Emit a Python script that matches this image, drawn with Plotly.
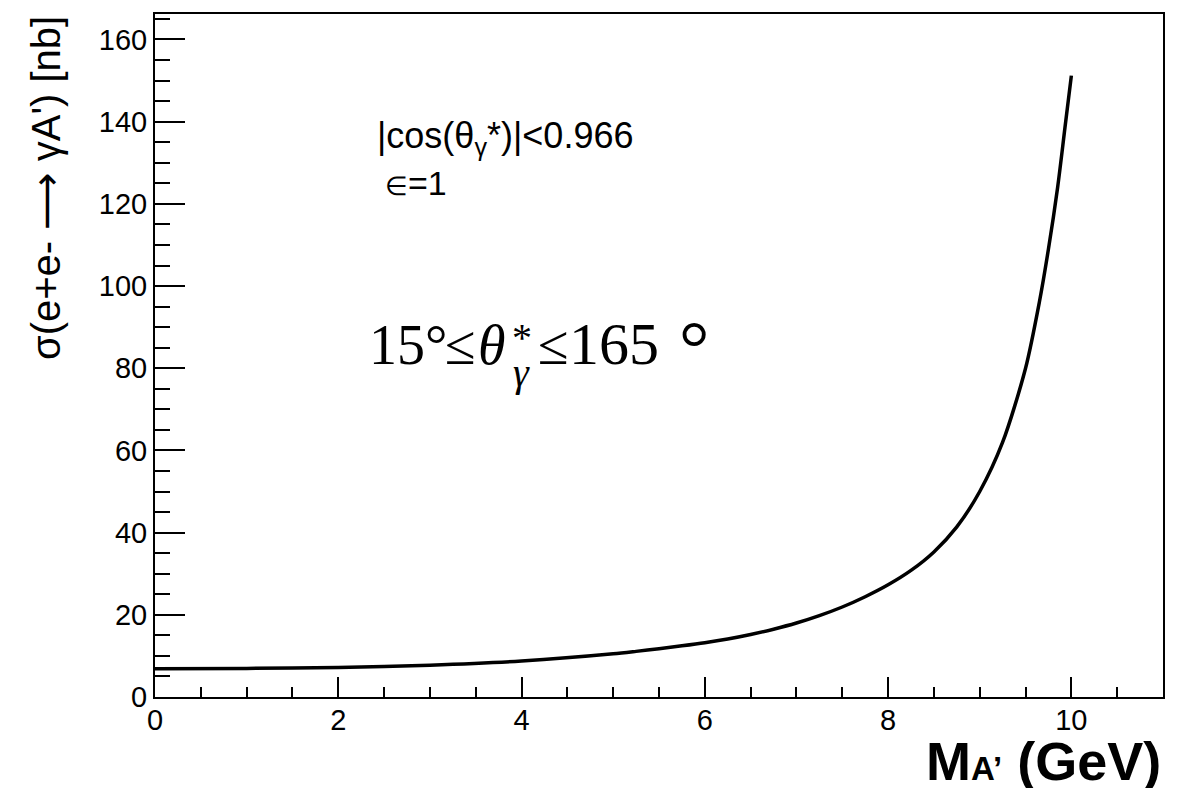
import plotly.graph_objects as go

# Cross section of e+e- -> gamma A' versus dark photon mass
mass_gev = [0, 1, 2, 3, 4, 5, 5.25, 5.5, 5.75, 6, 6.25, 6.5, 6.75, 7, 7.25,
            7.5, 7.75, 8, 8.25, 8.5, 8.75, 9.0, 9.25, 9.5, 9.65, 9.75, 9.85,
            9.93, 10.0]
xsec_nb = [6.85, 6.95, 7.2, 7.75, 8.75, 10.5, 11.1, 11.75, 12.45, 13.2, 14.1,
           15.2, 16.5, 18.0, 19.8, 21.9, 24.4, 27.3, 30.8, 35.3, 41.4, 50.0,
           62.0, 80.0, 96.0, 109.0, 124.0, 138.5, 151.2]

x_range = [0, 11]
y_range = [0, 166.2]

W, H = 1190, 788
L, R, T, B = 155, 27, 12, 91
PW, PH = W - L - R, H - T - B

SANS = "Liberation Sans, Arial, Helvetica, sans-serif"
SERIF = "Liberation Serif, Times New Roman, serif"


def px(xp):
    return (xp - L) / PW


def py(yp):
    return (H - B - yp) / PH


fig = go.Figure()
fig.add_trace(go.Scatter(
    x=mass_gev, y=xsec_nb, mode="lines",
    line=dict(color="black", width=3.5, shape="spline", smoothing=0.8),
    showlegend=False, hoverinfo="x+y",
))

axis_common = dict(
    showline=True, linecolor="black", linewidth=2, mirror=True,
    showgrid=False, zeroline=False,
    ticks="inside", tickcolor="black", tickwidth=1.5,
    tickfont=dict(family=SANS, size=29, color="black"),
)

fig.update_xaxes(range=x_range, tick0=0, dtick=2, ticklen=20,
                 ticklabelstandoff=-4,
                 minor=dict(ticks="inside", dtick=0.5, ticklen=10,
                            tickcolor="black", tickwidth=1.5),
                 **axis_common)
fig.update_yaxes(range=y_range, tick0=0, dtick=20, ticklen=30,
                 minor=dict(ticks="inside", dtick=5, ticklen=15,
                            tickcolor="black", tickwidth=1.5),
                 **axis_common)

ann = []
# axis titles
ann.append(dict(text="σ(e+e- <span style='font-family:DejaVu Sans'>⟶</span> γA') [nb]",
                textangle=-90,
                x=px(46), y=1.0, xanchor="center", yanchor="top",
                font=dict(family=SANS, size=40, color="black")))
ann.append(dict(text="<b>M<span style='font-size:33px'>A’</span> (GeV)</b>",
                x=1.0, y=py(761), xanchor="right", yanchor="middle",
                font=dict(family=SANS, size=54, color="black")))
# selection labels
ann.append(dict(text="|cos(θ<sub>γ</sub>*)|<0.966",
                x=px(375), y=py(136), xanchor="left", yanchor="middle",
                font=dict(family=SANS, size=36, color="black")))
ann.append(dict(text="<span style='font-size:26px'>∈</span>=1",
                x=px(383), y=py(181), xanchor="left", yanchor="middle",
                font=dict(family=SANS, size=34, color="black")))
# angular range formula
f_main = dict(family=SERIF, size=56, color="black")
f_small = dict(family=SERIF, size=40, color="black")
ann.append(dict(text="15°", x=px(367), y=py(344), xanchor="left",
                yanchor="middle", font=f_main))
ann.append(dict(text="≤", x=px(460), y=py(344), xanchor="center",
                yanchor="middle", font=f_main))
ann.append(dict(text="<i>θ</i>", x=px(492), y=py(344), xanchor="center",
                yanchor="middle", font=f_main))
ann.append(dict(text="*", x=px(522), y=py(336), xanchor="center",
                yanchor="middle", font=f_small))
ann.append(dict(text="<i>γ</i>", x=px(521), y=py(372), xanchor="center",
                yanchor="middle", font=f_small))
ann.append(dict(text="≤", x=px(553), y=py(344), xanchor="center",
                yanchor="middle", font=f_main))
ann.append(dict(text="165", x=px(567), y=py(343), xanchor="left",
                yanchor="middle", font=dict(family=SERIF, size=60, color="black")))
ann.append(dict(text="°", x=px(694), y=py(347), xanchor="center",
                yanchor="middle", font=dict(family=SERIF, size=76, color="black")))

for a in ann:
    a.update(xref="paper", yref="paper", showarrow=False)

fig.update_layout(
    width=W, height=H,
    margin=dict(l=L, r=R, t=T, b=B),
    paper_bgcolor="white", plot_bgcolor="white",
    annotations=ann,
)

fig.write_html("out.html")
